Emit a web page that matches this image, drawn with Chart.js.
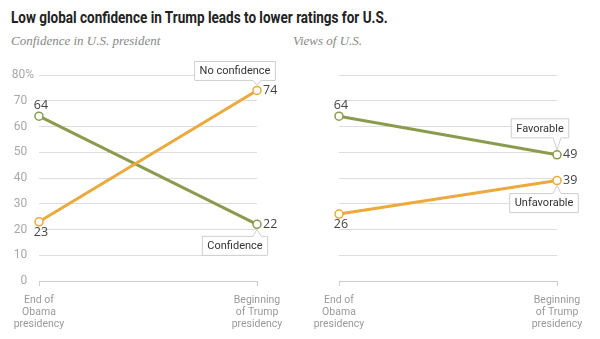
<!DOCTYPE html>
<html>
<head>
<meta charset="utf-8">
<script src="https://cdn.jsdelivr.net/npm/chart.js@4.4.1/dist/chart.umd.min.js"></script>
<style>
  body { margin: 0; background: #fff; width: 600px; height: 339px; overflow: hidden; position: relative; }
  #title { position: absolute; left: 11px; top: 7px; font: bold 17px Roboto, sans-serif; color: #222; white-space: nowrap; transform-origin: 0 0; }
  .sub { position: absolute; top: 33px; font: italic 13px "Liberation Serif", serif; color: #888; }
  .box { position: absolute; top: 60px; width: 300px; height: 279px; }
</style>
</head>
<body>
<div id="title">Low global confidence in Trump leads to lower ratings for U.S.</div>
<div class="sub" style="left:11px">Confidence in U.S. president</div>
<div class="sub" style="left:293px">Views of U.S.</div>
<div class="box" style="left:0"><canvas id="leftChart" width="300" height="279"></canvas></div>
<div class="box" style="left:300px"><canvas id="rightChart" width="300" height="279"></canvas></div>
<script>
// data
const categories = [['End of', 'Obama', 'presidency'], ['Beginning', 'of Trump', 'presidency']];
const confidence = [64, 22];
const noConfidence = [23, 74];
const favorable = [64, 49];
const unfavorable = [26, 39];
const yTickLabels = { 0: '0', 10: '10', 20: '20', 30: '30', 40: '40', 50: '50', 60: '60', 70: '70', 80: '80%' };

const GREEN = '#8b9b4e';
const ORANGE = '#eca93c';

// fit the title to the width it has in the original
const title = document.getElementById('title');
title.style.transform = 'scaleX(' + (377 / title.scrollWidth) + ')';

// value labels + callout boxes
const labelPlugin = {
  id: 'labels',
  afterDatasetsDraw(chart) {
    const ctx = chart.ctx;
    ctx.save();
    chart.data.datasets.forEach((ds, i) => {
      const meta = chart.getDatasetMeta(i);
      ctx.font = '12.5px "Open Sans", sans-serif';
      ctx.fillStyle = '#444';
      meta.data.forEach((pt, j) => {
        const pos = ds.valuePos[j];
        const v = String(ds.data[j]);
        if (pos === 'above') {
          ctx.textAlign = 'center'; ctx.textBaseline = 'bottom';
          ctx.fillText(v, pt.x + 2, pt.y - 5);
        } else if (pos === 'below') {
          ctx.textAlign = 'center'; ctx.textBaseline = 'top';
          ctx.fillText(v, pt.x + 2, pt.y + 4);
        } else {
          ctx.textAlign = 'left'; ctx.textBaseline = 'middle';
          ctx.fillText(v, pt.x + 6, pt.y);
        }
      });
      const c = ds.callout;
      if (c) {
        const pt = meta.data[meta.data.length - 1];
        ctx.font = '11px Roboto, sans-serif';
        const w = ctx.measureText(c.text).width + 10;
        const h = 19;
        const left = pt.x + c.dx - w / 2;
        const top = c.side === 'above' ? pt.y - c.gap - h : pt.y + c.gap;
        const tip = c.side === 'above' ? pt.y - 5 : pt.y + 5;
        ctx.beginPath();
        if (c.side === 'above') {
          ctx.moveTo(left, top);
          ctx.lineTo(left + w, top);
          ctx.lineTo(left + w, top + h);
          ctx.lineTo(pt.x + 4, top + h);
          ctx.lineTo(pt.x, tip);
          ctx.lineTo(pt.x - 4, top + h);
          ctx.lineTo(left, top + h);
        } else {
          ctx.moveTo(left, top);
          ctx.lineTo(pt.x - 4, top);
          ctx.lineTo(pt.x, tip);
          ctx.lineTo(pt.x + 4, top);
          ctx.lineTo(left + w, top);
          ctx.lineTo(left + w, top + h);
          ctx.lineTo(left, top + h);
        }
        ctx.closePath();
        ctx.fillStyle = '#fff';
        ctx.fill();
        ctx.strokeStyle = '#cfcfcf';
        ctx.lineWidth = 1;
        ctx.stroke();
        ctx.fillStyle = '#333';
        ctx.textAlign = 'center'; ctx.textBaseline = 'middle';
        ctx.fillText(c.text, left + w / 2, top + h / 2 + 0.5);
      }
    });
    ctx.restore();
  }
};

function lineSet(values, color, valuePos, callout) {
  return {
    data: values,
    borderColor: color,
    borderWidth: 3,
    tension: 0,
    pointRadius: 4,
    pointHoverRadius: 4,
    pointBackgroundColor: '#fff',
    pointBorderColor: color,
    pointBorderWidth: 1.5,
    valuePos: valuePos,
    callout: callout
  };
}

function makeChart(id, datasets, showTicks) {
  return new Chart(document.getElementById(id), {
    type: 'line',
    data: { labels: categories, datasets: datasets },
    options: {
      responsive: false,
      animation: false,
      events: [],
      layout: { padding: { top: 15, right: 43, bottom: 8, left: 0 } },
      plugins: { legend: { display: false }, tooltip: { enabled: false } },
      scales: {
        x: {
          offset: false,
          grid: { drawOnChartArea: false, drawTicks: true, tickLength: 5, color: '#cccccc' },
          border: { display: true, color: '#cccccc' },
          ticks: {
            padding: 8,
            maxRotation: 0,
            autoSkip: false,
            color: '#9a9a9a',
            font: { family: 'Roboto', size: 10.5, lineHeight: 1.15 }
          },
          afterFit: s => { s.height = 50; }
        },
        y: {
          min: 0,
          max: 80,
          grid: { color: '#dddddd', drawTicks: false },
          border: { display: false },
          ticks: {
            display: showTicks,
            stepSize: 10,
            padding: 5,
            color: '#a8a8a8',
            font: { family: 'Roboto', size: 12 },
            callback: v => v === 80 ? yTickLabels[v] : yTickLabels[v] + '\u2007'
          },
          afterFit: s => { s.width = 39; }
        }
      }
    },
    plugins: [labelPlugin]
  });
}

makeChart('leftChart', [
  lineSet(noConfidence, ORANGE, ['below', 'right'], { text: 'No confidence', side: 'above', dx: -22, gap: 10 }),
  lineSet(confidence, GREEN, ['above', 'right'], { text: 'Confidence', side: 'below', dx: -22, gap: 12 })
], true);

makeChart('rightChart', [
  lineSet(unfavorable, ORANGE, ['below', 'right'], { text: 'Unfavorable', side: 'below', dx: -13, gap: 13 }),
  lineSet(favorable, GREEN, ['above', 'right'], { text: 'Favorable', side: 'above', dx: -17, gap: 17 })
], false);
</script>
</body>
</html>
